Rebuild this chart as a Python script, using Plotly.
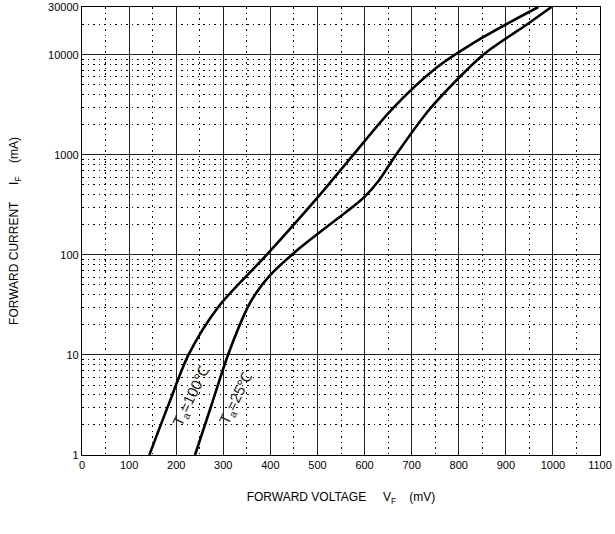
import plotly.graph_objects as go

# Forward voltage (mV) vs forward current (mA)
vf_100 = [143, 185, 226, 289, 392, 500, 576, 657, 750, 850, 969]
if_100 = [1, 3.3, 10, 30, 100, 374, 1000, 2818, 7244, 14791, 30000]

vf_25 = [240, 275, 310, 352, 367, 400, 463, 550, 575, 600, 630, 664, 739, 852, 944, 997]
if_25 = [1, 3.16, 10, 30, 39.8, 63, 117.5, 245, 302, 380, 550, 955, 2884, 10000, 19953, 30000]

x_ticks = list(range(0, 1101, 100))
y_ticks = [1, 10, 100, 1000, 10000, 30000]
y_ticktext = ["1", "10", "100", "1000", "10000", "30000"]
y_minor = [m * 10 ** d for d in range(0, 4) for m in range(2, 10)] + [20000]

FONT = "Arial, Liberation Sans, sans-serif"
NB = "\u00a0"

fig = go.Figure()
for xs, ys in [(vf_100, if_100), (vf_25, if_25)]:
    fig.add_trace(go.Scatter(x=xs, y=ys, mode="lines",
                             line=dict(color="black", width=2.6, shape="spline", smoothing=0.8),
                             showlegend=False, hoverinfo="skip"))

fig.add_annotation(x=233, y=0.58, text="T<sub>a</sub>=100℃", showarrow=False, textangle=-64,
                   font=dict(family=FONT, size=15, color="#222"))
fig.add_annotation(x=328, y=0.56, text="T<sub>a</sub>=25℃", showarrow=False, textangle=-64,
                   font=dict(family=FONT, size=15, color="#222"))

grid_major = "#222222"
fig.update_xaxes(range=[0, 1100], tickvals=x_ticks, ticks="", showgrid=True, gridcolor=grid_major,
                 gridwidth=1.2, zeroline=False, showline=True, linecolor="black", linewidth=1.2, mirror=True,
                 automargin=False,
                 tickfont=dict(family=FONT, size=11, color="black"),
                 minor=dict(tickvals=[v + 50 for v in x_ticks[:-1]], showgrid=True, gridcolor="black",
                            griddash="1.5px,4px", gridwidth=1),
                 title=dict(text="FORWARD VOLTAGE" + NB * 5 + "V<sub>F</sub>" + NB * 4 + "(mV)",
                            font=dict(family=FONT, size=12, color="black"), standoff=22))
fig.update_yaxes(type="log", range=[0, 4.4771], tickvals=y_ticks, ticktext=y_ticktext, ticks="",
                 showgrid=True, gridcolor=grid_major, gridwidth=1.2, zeroline=False, showline=True,
                 linecolor="black", linewidth=1.2, mirror=True, automargin=False,
                 tickfont=dict(family=FONT, size=11, color="black"),
                 minor=dict(tickvals=y_minor, showgrid=True, gridcolor="black",
                            griddash="1.5px,4px", gridwidth=1),
                 title=dict(text="FORWARD CURRENT" + NB * 5 + "I<sub>F</sub>" + NB * 4 + "(mA)",
                            font=dict(family=FONT, size=12, color="black"), standoff=26))

fig.update_layout(width=615, height=534, margin=dict(l=82, r=15, t=7, b=79),
                  paper_bgcolor="white", plot_bgcolor="white")

fig.write_html("out.html", config={"displayModeBar": False},
               post_script="document.body.style.margin='0';document.body.style.overflow='hidden';")
